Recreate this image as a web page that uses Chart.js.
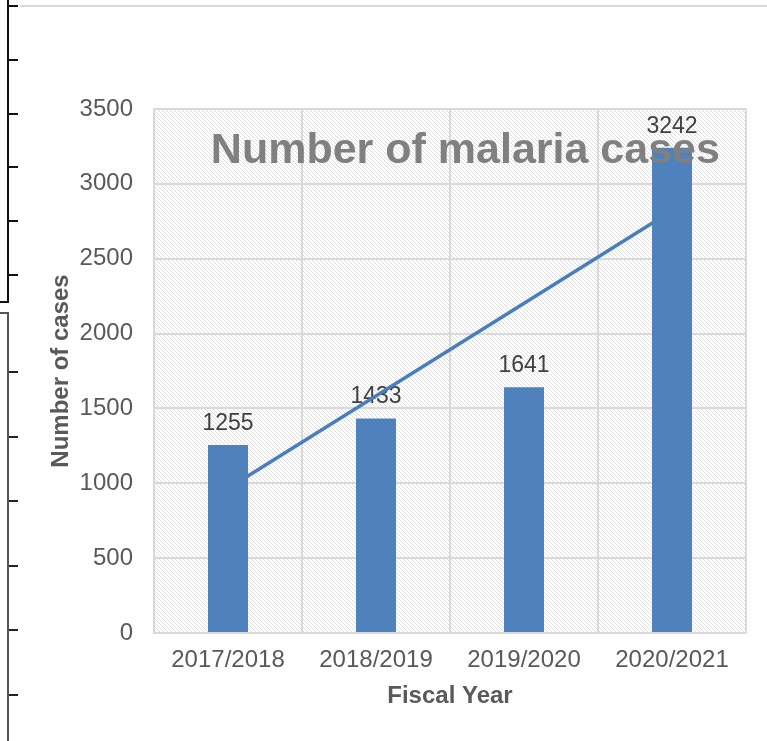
<!DOCTYPE html>
<html>
  <head>
    <title>Number of malaria cases</title>
    <script src="https://cdn.jsdelivr.net/npm/chart.js@4.4.1/dist/chart.umd.min.js"></script>
    <style>
      body { margin: 0; background: #fff; }
      #container { position: relative; width: 767px; height: 741px; }
      .edge { position: absolute; }
    </style>
  </head>

  <body>
    <div id="container">
      <!-- bits of the page border that the crop left in -->
      <div class="edge" style="left:20px; top:5px; width:747px; height:2px; background:#d9d9d9"></div>
      <div class="edge" style="left:0; top:0; width:7px; height:301px; border-right:2px solid #111; border-bottom:2px solid #111"></div>
      <div class="edge" style="left:9px; top:0; width:9px; height:300px;
        background: repeating-linear-gradient(to bottom, #111 0 2px, transparent 2px 53.8px) 0 5px / 9px 300px no-repeat"></div>
      <div class="edge" style="left:0; top:312px; width:7px; height:429px; border-right:2px solid #555; border-top:2px solid #555"></div>
      <div class="edge" style="left:9px; top:312px; width:9px; height:429px;
        background: repeating-linear-gradient(to bottom, #222 0 2px, transparent 2px 64.6px) 0 59px / 9px 429px no-repeat"></div>
      <canvas id="canvas" width="767" height="741" style="position:absolute; left:0; top:0"></canvas>
    </div>
    <script>
      const years = ['2017/2018', '2018/2019', '2019/2020', '2020/2021'];
      const cases = [1255, 1433, 1641, 3242];
      // linear trendline, only the two ends
      const trendCases = [965, null, null, 2820];
      const yTicks = [0, 500, 1000, 1500, 2000, 2500, 3000, 3500];

      const FONT = "'Liberation Sans', Arial, sans-serif";
      const barBlue = '#4f81bd';
      const gridGrey = '#d9d9d9';
      const textGrey = '#595959';

      function hatch() {
        const c = document.createElement('canvas');
        c.width = 4;
        c.height = 4;
        const g = c.getContext('2d');
        g.fillStyle = '#fff';
        g.fillRect(0, 0, 4, 4);
        g.fillStyle = '#dedede';
        for (let i = 0; i < 4; i++) g.fillRect(i, i, 1, 1);
        return g.createPattern(c, 'repeat');
      }

      const plotBackground = {
        id: 'plotBackground',
        beforeDraw(chart) {
          const { ctx, chartArea: a } = chart;
          ctx.save();
          ctx.fillStyle = hatch();
          ctx.fillRect(a.left, a.top, a.width, a.height);
          ctx.restore();
        },
      };

      const valueLabels = {
        id: 'valueLabels',
        beforeDatasetsDraw(chart) {
          const { ctx } = chart;
          const meta = chart.getDatasetMeta(0);
          ctx.save();
          ctx.font = '23px ' + FONT;
          ctx.fillStyle = '#404040';
          ctx.textAlign = 'center';
          ctx.textBaseline = 'alphabetic';
          meta.data.forEach((bar, i) => {
            ctx.fillText(String(cases[i]), bar.x, bar.y - 15);
          });
          ctx.restore();
        },
      };

      const innerTitle = {
        id: 'innerTitle',
        afterDatasetsDraw(chart) {
          const { ctx, chartArea: a } = chart;
          ctx.save();
          ctx.font = 'bold 43px ' + FONT;
          ctx.fillStyle = '#808080';
          ctx.textAlign = 'center';
          ctx.textBaseline = 'alphabetic';
          ctx.fillText('Number of malaria cases', a.left + a.width * 0.526, a.top + 54);
          ctx.restore();
        },
      };

      window.onload = () => {
        const ctx = document.getElementById('canvas').getContext('2d');
        new Chart(ctx, {
          type: 'bar',
          data: {
            labels: years,
            datasets: [
              {
                label: 'Number of cases',
                data: cases,
                backgroundColor: barBlue,
                categoryPercentage: 1,
                barPercentage: 0.27,
                order: 0,
              },
              {
                type: 'line',
                label: 'Linear trend',
                data: trendCases,
                borderColor: '#4a7ebb',
                borderWidth: 3.5,
                pointRadius: 0,
                spanGaps: true,
                order: 1,
              },
            ],
          },
          options: {
            responsive: false,
            animation: false,
            layout: { padding: { top: 109, right: 21, left: 0, bottom: 0 } },
            plugins: {
              legend: { display: false },
              title: { display: false },
              tooltip: { enabled: false },
            },
            scales: {
              x: {
                afterFit: (scale) => { scale.height = 108; },
                grid: { color: gridGrey, lineWidth: 2, drawTicks: false },
                border: { color: gridGrey, width: 2 },
                ticks: { font: { family: FONT, size: 24 }, color: textGrey, padding: 13 },
                title: {
                  display: true,
                  text: 'Fiscal Year',
                  font: { family: FONT, size: 24, weight: 'bold' },
                  color: textGrey,
                  padding: { top: 0, bottom: 30 },
                },
              },
              y: {
                min: 0,
                max: 3500,
                afterFit: (scale) => { scale.width = 154; },
                afterBuildTicks: (scale) => { scale.ticks = yTicks.map((v) => ({ value: v })); },
                grid: { color: gridGrey, lineWidth: 2, drawTicks: false },
                border: { color: gridGrey, width: 2 },
                ticks: {
                  font: { family: FONT, size: 24 },
                  color: textGrey,
                  padding: 21,
                  callback: (v) => String(v),
                },
                title: {
                  display: true,
                  text: 'Number of cases',
                  font: { family: FONT, size: 24, weight: 'bold' },
                  color: textGrey,
                  padding: { top: 47, bottom: 0 },
                },
              },
            },
          },
          plugins: [plotBackground, valueLabels, innerTitle],
        });
      };
    </script>
  </body>
</html>
